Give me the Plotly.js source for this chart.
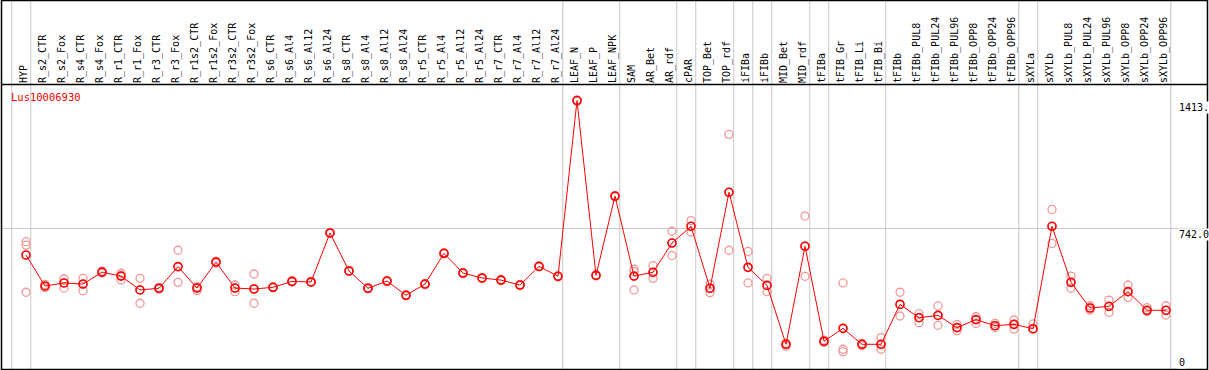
<!DOCTYPE html>
<html>
<head>
<meta charset="utf-8">
<script src="https://cdn.plot.ly/plotly-3.0.1.min.js"></script>
<style>html,body{margin:0;padding:0;background:#fff;}#chart{width:1209px;height:370px;}</style>
</head>
<body>
<div id="chart"></div>
<script>
const chartTitle = 'Lus10006930';
const categories = ['HYP','R_s2_CTR','R_s2_Fox','R_s4_CTR','R_s4_Fox','R_r1_CTR','R_r1_Fox','R_r3_CTR','R_r3_Fox','R_r1s2_CTR','R_r1s2_Fox','R_r3s2_CTR','R_r3s2_Fox','R_s6_CTR','R_s6_Al4','R_s6_Al12','R_s6_Al24','R_s8_CTR','R_s8_Al4','R_s8_Al12','R_s8_Al24','R_r5_CTR','R_r5_Al4','R_r5_Al12','R_r5_Al24','R_r7_CTR','R_r7_Al4','R_r7_Al12','R_r7_Al24','LEAF_N','LEAF_P','LEAF_NPK','SAM','AR_Bet','AR_rdf','cPAR','TOP_Bet','TOP_rdf','iFIBa','iFIBb','MID_Bet','MID_rdf','tFIBa','tFIB_Gr','tFIB_Li','tFIB_Bi','tFIBb','tFIBb_PUL8','tFIBb_PUL24','tFIBb_PUL96','tFIBb_OPP8','tFIBb_OPP24','tFIBb_OPP96','sXYLa','sXYLb','sXYLb_PUL8','sXYLb_PUL24','sXYLb_PUL96','sXYLb_OPP8','sXYLb_OPP24','sXYLb_OPP96'];
const meanVals = [600,437,453,447,510,489,416,425,539,426,563,426,421,430,461,458,716,516,425,463,388,447,609,505,479,468,442,540,488,1413,493,910,489,509,663,751,425,930,535,440,130,646,146,214,130,130,340,270,282,218,260,228,235,212,751,456,321,330,407,309,309];
const rep1 = [670,445,475,477,515,504,477,430,625,433,568,442,500,433,464,461,719,519,428,466,391,450,612,508,482,471,445,543,491,1416,496,913,525,544,725,781,447,1235,619,477,136,805,152,453,135,165,404,291,332,235,275,240,258,237,840,489,333,363,442,323,333];
const rep2 = [404,428,426,412,505,468,346,420,456,412,558,407,346,427,458,455,713,513,422,460,385,444,606,502,476,465,439,537,485,1410,490,907,416,477,597,721,402,625,453,407,120,488,140,104,123,104,279,244,230,202,240,218,210,209,661,425,310,298,377,302,284];
const rep3 = [652,435,453,447,510,492,416,425,539,426,563,426,421,430,461,458,716,516,425,463,388,447,609,505,479,468,442,540,488,1413,493,910,512,509,663,751,425,930,535,440,130,646,146,91,130,130,340,270,282,218,260,228,235,212,751,456,321,330,407,309,309];
const separatorsAfter = [-1,0,28,31,34,35,37,38,39,41,42,45,52,53,60];
const yTickVals = [0,742,1413];
const yTickText = ['0','742.0','1413.'];
const gridVals = [742];

const W = 1209, H = 370;
const idx = categories.map((c,i)=>i);
const mono = 'DejaVu Sans Mono, monospace';
const repColor = '#f09898';

const traces = [rep1, rep2, rep3].map(r => ({
  x: idx, y: r, type: 'scatter', mode: 'markers',
  marker: {symbol: 'circle-open', size: 8, color: repColor, line: {width: 1.3, color: repColor}},
  hoverinfo: 'skip', showlegend: false, cliponaxis: false
}));
traces.push({
  x: idx, y: meanVals, type: 'scatter', mode: 'lines+markers',
  line: {color: '#ff0000', width: 1},
  marker: {symbol: 'circle-open', size: 8, color: '#ff0000', line: {width: 1.6, color: '#ff0000'}},
  showlegend: false, cliponaxis: false
});

const shapes = [];
separatorsAfter.forEach(s => {
  shapes.push({type: 'line', xref: 'x', yref: 'paper', x0: s + 0.25, x1: s + 0.25, y0: 1 - 369/H, y1: 1,
    line: {color: '#c8c8c8', width: 1}, layer: 'below'});
});
shapes.push({type: 'rect', xref: 'paper', yref: 'paper', x0: 1.5/W, x1: 1207.5/W, y0: 1 - 369.5/H, y1: 1 - 0.5/H,
  line: {color: '#000', width: 1.5}, fillcolor: 'rgba(0,0,0,0)'});
shapes.push({type: 'line', xref: 'paper', yref: 'paper', x0: 1.5/W, x1: 1207.5/W, y0: 1 - 84.5/H, y1: 1 - 84.5/H,
  line: {color: '#000', width: 1.5}});

const annotations = yTickVals.map((v,i) => ({
  xref: 'paper', yref: 'y', x: 1178/W, y: v, xanchor: 'left', yanchor: v === 0 ? 'bottom' : 'top',
  text: yTickText[i], showarrow: false, borderpad: 0, bgcolor: '#fff',
  font: {family: mono, size: 10, color: '#000'}
}));
annotations.push({xref: 'paper', yref: 'paper', x: 9/W, y: 1 - 97/H, xanchor: 'left', yanchor: 'middle',
  text: chartTitle, showarrow: false, font: {family: mono, size: 10.5, color: '#ff0000'}});

const layout = {
  width: W, height: H,
  margin: {l: 0, r: 0, t: 0, b: 0, pad: 0},
  paper_bgcolor: '#fff', plot_bgcolor: '#fff',
  showlegend: false,
  xaxis: {
    domain: [2/W, 1208/W], range: [(2-26)/19, (1208-26)/19],
    side: 'top', tickmode: 'array', tickvals: idx.map(i => i - 0.12), ticktext: categories,
    tickangle: -90, ticks: '', showgrid: false, zeroline: false, showline: false,
    tickfont: {family: mono, size: 10, color: '#000'}, automargin: false
  },
  yaxis: {
    domain: [1 - 369/H, 1 - 84/H], range: [0, 1500],
    tickmode: 'array', tickvals: gridVals, showticklabels: false, ticks: '',
    showgrid: true, gridcolor: '#c8c8c8', gridwidth: 1, zeroline: false, showline: false, automargin: false
  },
  shapes: shapes,
  annotations: annotations
};

Plotly.newPlot('chart', traces, layout, {staticPlot: true, displayModeBar: false});
</script>
</body>
</html>
